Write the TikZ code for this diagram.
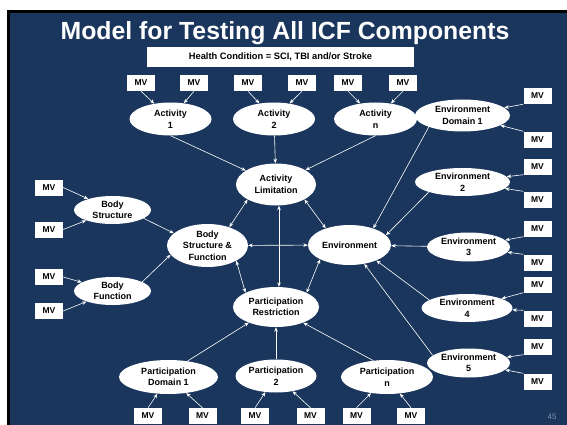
\documentclass[tikz,border=0pt]{standalone}
\usepackage{fontspec}
\setmainfont{Liberation Sans}
\usetikzlibrary{shapes.geometric,arrows.meta}
\definecolor{slidebg}{RGB}{26,54,93}
\definecolor{pagenum}{RGB}{128,143,168}
\begin{document}
\begin{tikzpicture}[x=1pt,y=-1pt,
  mv/.style={fill=white, minimum width=28pt, minimum height=16pt, inner sep=0pt, font=\fontsize{8.5}{10}\selectfont\bfseries, text=black},
  ell/.style={ellipse, fill=white, inner sep=0pt, align=center, font=\fontsize{9}{11.5}\selectfont\bfseries, text=black},
  arr/.style={draw=white, line width=0.6pt, -{Stealth[length=4.5pt,width=3.6pt]}},
  darr/.style={draw=white, line width=0.6pt, {Stealth[length=4.5pt,width=3.6pt]}-{Stealth[length=4.5pt,width=3.6pt]}},
]
\fill[white] (0,0) rectangle (567,425);
\fill[black] (7,10) rectangle (567,425);
\fill[slidebg] (10,13) rectangle (567,425);
\useasboundingbox (0,0) rectangle (567,425);

\node[text=white, font=\fontsize{24.8}{28}\selectfont\bfseries, anchor=base] (title) at (285,40) {Model for Testing All ICF Components};
\node[fill=white, minimum width=267pt, minimum height=20pt, inner sep=0pt, font=\fontsize{9.3}{11}\selectfont\bfseries] (hc) at (280.5,57) {Health Condition = SCI, TBI and/or Stroke};

% ellipses
\node[ell, minimum width=82pt, minimum height=33pt] (act1) at (170.5,119) {Activity\\1};
\node[ell, minimum width=82pt, minimum height=33pt] (act2) at (274,119) {Activity\\2};
\node[ell, minimum width=83pt, minimum height=33pt] (actn) at (375.5,119) {Activity\\n};
\node[ell, minimum width=80pt, minimum height=42pt] (al) at (276,184.5) {Activity\\Limitation};
\node[ell, minimum width=77pt, minimum height=28pt] (bs) at (112.5,210) {Body\\Structure};
\node[ell, minimum width=77pt, minimum height=28pt] (bf) at (112.5,291) {Body\\Function};
\node[ell, minimum width=81pt, minimum height=43pt] (bsf) at (207.5,245.5) {Body\\Structure \&\\Function};
\node[ell, minimum width=83pt, minimum height=40pt] (env) at (349.5,245) {Environment};
\node[ell, minimum width=86pt, minimum height=40pt] (pr) at (276,307) {Participation\\Restriction};
\node[ell, minimum width=99pt, minimum height=34pt] (pd1) at (168.5,377) {Participation\\Domain 1};
\node[ell, minimum width=81pt, minimum height=33pt] (p2) at (276,376) {Participation\\2};
\node[ell, minimum width=92pt, minimum height=34pt] (pn) at (387,377) {Participation\\n};
\node[ell, minimum width=95pt, minimum height=32pt] (ed1) at (462.5,115.5) {Environment\\Domain 1};
\node[ell, minimum width=95pt, minimum height=28pt] (e2) at (462.5,182) {Environment\\2};
\node[ell, minimum width=83pt, minimum height=29pt] (e3) at (468.5,247) {Environment\\3};
\node[ell, minimum width=91pt, minimum height=28pt] (e4) at (467,308) {Environment\\4};
\node[ell, minimum width=83pt, minimum height=29pt] (e5) at (468.5,363) {Environment\\5};

% MV boxes top
\node[mv] (t1) at (141,83) {MV};
\node[mv] (t2) at (194,83) {MV};
\node[mv] (t3) at (248,83) {MV};
\node[mv] (t4) at (302,83) {MV};
\node[mv] (t5) at (348,83) {MV};
\node[mv] (t6) at (403,83) {MV};
% right
\node[mv] (r1) at (537.5,96) {MV};
\node[mv] (r2) at (537.5,139.5) {MV};
\node[mv] (r3) at (537.5,166.5) {MV};
\node[mv] (r4) at (537.5,199.5) {MV};
\node[mv] (r5) at (537.5,228.5) {MV};
\node[mv] (r6) at (537.5,262.5) {MV};
\node[mv] (r7) at (537.5,284.5) {MV};
\node[mv] (r8) at (537.5,318.5) {MV};
\node[mv] (r9) at (537.5,346.5) {MV};
\node[mv] (r10) at (537.5,381.5) {MV};
% left
\node[mv] (l1) at (49,187.5) {MV};
\node[mv] (l2) at (49,229.5) {MV};
\node[mv] (l3) at (49,277) {MV};
\node[mv] (l4) at (49,311) {MV};
% bottom
\node[mv] (b1) at (148,416) {MV};
\node[mv] (b2) at (202.5,416) {MV};
\node[mv] (b3) at (255,416) {MV};
\node[mv] (b4) at (310.5,416) {MV};
\node[mv] (b5) at (356.5,416) {MV};
\node[mv] (b6) at (411,416) {MV};

\node[text=pagenum, font=\fontsize{8}{9}\selectfont] (pg) at (552,417) {45};

% MV arrows
\draw[arr] (t1.south) -- (act1);
\draw[arr] (t2.south) -- (act1);
\draw[arr] (t3.south) -- (act2);
\draw[arr] (t4.south) -- (act2);
\draw[arr] (t5.south) -- (actn);
\draw[arr] (t6.south) -- (actn);
\draw[arr] (r1.south west) -- (ed1);
\draw[arr] (r2.north west) -- (ed1);
\draw[arr] (r3.south west) -- (e2);
\draw[arr] (r4.north west) -- (e2);
\draw[arr] (r5.south west) -- (e3);
\draw[arr] (r6.north west) -- (e3);
\draw[arr] (r7.south west) -- (e4);
\draw[arr] (r8.north west) -- (e4);
\draw[arr] (r9.south west) -- (e5);
\draw[arr] (r10.north west) -- (e5);
\draw[arr] (l1.east) -- (bs);
\draw[arr] (l2.east) -- (bs);
\draw[arr] (l3.east) -- (bf);
\draw[arr] (l4.east) -- (bf);
\draw[arr] (b1.north) -- (pd1);
\draw[arr] (b2.north) -- (pd1);
\draw[arr] (b3.north) -- (p2);
\draw[arr] (b4.north) -- (p2);
\draw[arr] (b5.north) -- (pn);
\draw[arr] (b6.north) -- (pn);

% structural arrows
\draw[arr] (act1.south) -- (al);
\draw[arr] (act2) -- (al);
\draw[arr] (actn.south) -- (al);
\draw[arr] (bs.-15) -- (bsf.160);
\draw[arr] (bf.17) -- (bsf.194);
\draw[darr] (al.south west) -- (bsf.40);
\draw[darr] (al.south east) -- (env.145);
\draw[darr] (bsf) -- (env);
\draw[darr] ([xshift=3pt]al.south) -- ([xshift=3pt]pr.north);
\draw[darr] (bsf.south east) -- (pr.north west);
\draw[darr] (env.south west) -- (pr.north east);
\draw[arr] (ed1.south west) -- (env.35);
\draw[arr] (e2.south west) -- (env.15);
\draw[arr] (e3) -- (env);
\draw[arr] (e4.168) -- (env.-30);
\draw[arr] (e5.168) -- (env.-52);
\draw[arr] (pd1.40) -- (pr.210);
\draw[arr] (p2) -- (pr);
\draw[arr] (pn.130) -- (pr.-30);
\end{tikzpicture}
\end{document}
